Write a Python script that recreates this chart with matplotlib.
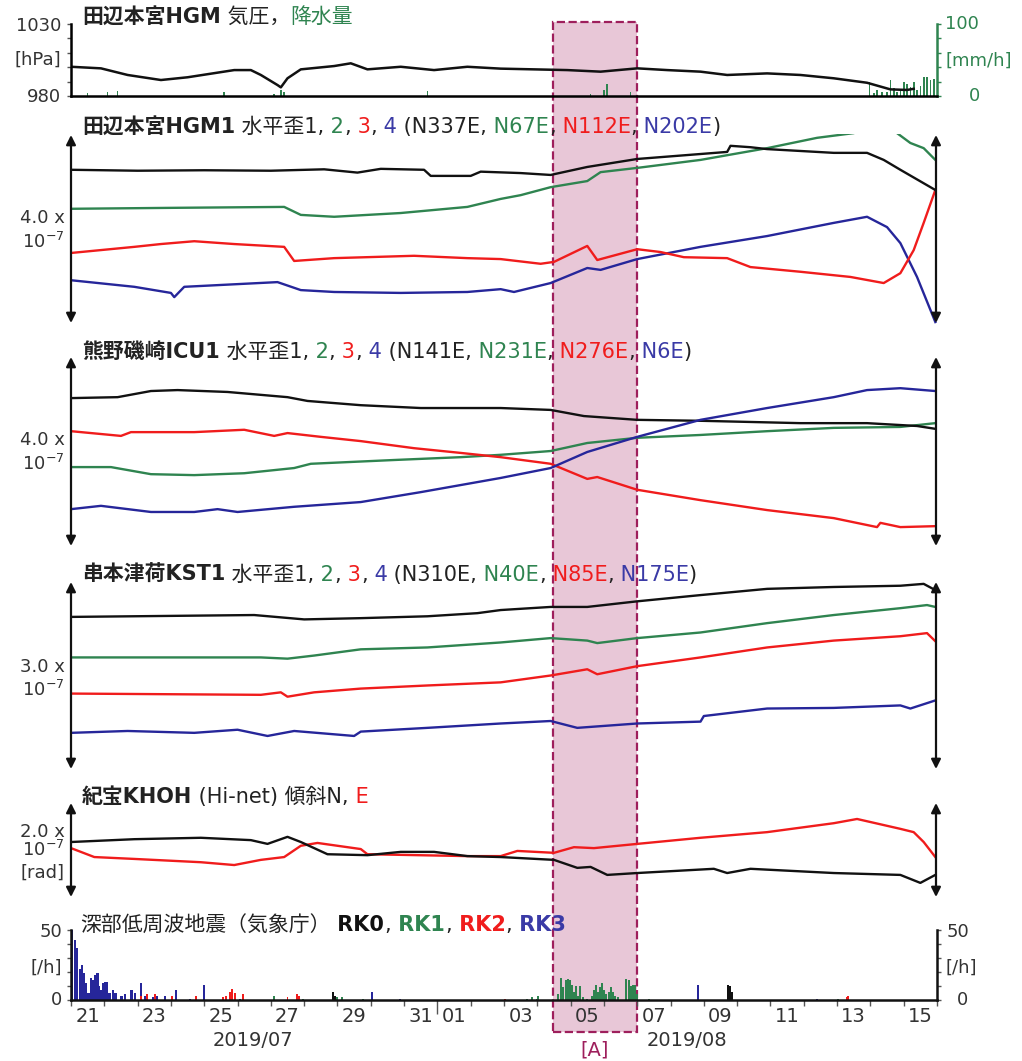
import matplotlib.pyplot as plt
from matplotlib.patches import Rectangle
from matplotlib.offsetbox import TextArea, HPacker, AnnotationBbox

plt.rcParams['font.family'] = ['DejaVu Sans', 'Noto Sans CJK JP']
plt.rcParams['mathtext.default'] = 'regular'
plt.rcParams['axes.unicode_minus'] = False

# time axis: days since 2019-07-21 00:00
day_pos = [0.5, 2.5, 4.5, 6.5, 8.5, 10.5, 11.5, 13.5, 15.5, 17.5, 19.5, 21.5, 23.5, 25.5]
day_labels = ['21', '23', '25', '27', '29', '31', '01', '03', '05', '07', '09', '11', '13', '15']
span_A = [14.47, 17.0]

# 田辺本宮HGM pressure [hPa] and rain [mm/h]
press_t = [0, 0.9, 1.7, 2.7, 3.5, 4.9, 5.4, 5.7, 6.2, 6.3, 6.5, 6.9, 7.9, 8.4, 8.9, 9.9,
           10.9, 11.9, 12.9, 14.9, 15.9, 17, 17.9, 18.9, 19.7, 20.9, 21.9, 22.9, 23.9,
           24.6, 25.1, 25.3]
press_hpa = [1000.3, 999.2, 994.6, 991.1, 993.0, 998.0, 998.0, 994.6, 987.6, 986.0, 992.3,
             998.5, 1000.8, 1002.7, 998.5, 1000.3, 998.0, 1000.3, 999.0, 998.0, 996.9,
             999.2, 998.0, 996.9, 994.6, 995.7, 994.6, 992.3, 989.2, 984.6, 984.2, 985.0]
rain_t = [0.5, 1.1, 1.4, 4.6, 6.1, 6.3, 6.4, 10.7, 15.6, 16.0, 16.1, 16.8, 23.97, 24.1,
          24.2, 24.35, 24.5, 24.6, 24.7, 24.8, 24.9, 25.0, 25.1, 25.2, 25.3, 25.4, 25.5,
          25.6, 25.7, 25.8, 25.9]
rain_mm = [4, 5, 7, 5, 3, 9, 5, 7, 3, 8, 17, 6, 20, 4, 8, 5, 6, 22, 11, 6, 9, 20, 17, 13,
           20, 8, 14, 26, 27, 22, 24]

# 田辺本宮HGM1 strain [1e-7], components 1-4
hgm1_t = [0, 2, 4, 6, 7.6, 8.6, 9.3, 10.6, 10.8, 12.0, 12.3, 13.5, 14.4, 15.5, 17, 19.7,
          19.8, 20.4, 20.9, 22.9, 23.9, 24.4, 24.9, 25.95]
hgm1_v = [3.26, 3.24, 3.25, 3.24, 3.27, 3.20, 3.28, 3.26, 3.13, 3.13, 3.22, 3.19, 3.15,
          3.32, 3.49, 3.64, 3.77, 3.74, 3.70, 3.62, 3.62, 3.47, 3.26, 2.83]
hgm2_t = [0, 3, 6.4, 6.9, 7.9, 9.9, 11.9, 12.9, 13.5, 14.4, 15.5, 15.9, 17, 18.9, 20.9,
          22.4, 23.5, 24.2, 24.8, 25.2, 25.6, 25.95]
hgm2_v = [2.43, 2.45, 2.47, 2.30, 2.26, 2.34, 2.47, 2.64, 2.72, 2.89, 3.02, 3.21, 3.30,
          3.47, 3.72, 3.94, 4.04, 4.25, 4.04, 3.83, 3.72, 3.47]
hgm3_t = [0, 1.9, 2.7, 3.7, 4.9, 6.4, 6.7, 7.9, 10.3, 11.9, 12.9, 14.1, 14.5, 15.5, 15.8,
          17, 17.7, 18.4, 19.7, 20.4, 21.9, 23.4, 24.4, 24.9, 25.3, 25.6, 25.95]
hgm3_v = [1.49, 1.62, 1.68, 1.74, 1.68, 1.62, 1.32, 1.38, 1.43, 1.38, 1.36, 1.26, 1.30,
          1.64, 1.34, 1.57, 1.51, 1.40, 1.38, 1.19, 1.09, 0.98, 0.85, 1.06, 1.55, 2.13, 2.83]
hgm4_t = [0, 1.9, 3.0, 3.1, 3.4, 6.2, 6.9, 7.9, 9.9, 11.9, 12.9, 13.3, 14.4, 15.5, 15.9,
          17, 18.9, 20.9, 22.9, 23.9, 24.5, 24.9, 25.4, 25.95]
hgm4_v = [0.91, 0.77, 0.64, 0.55, 0.77, 0.87, 0.70, 0.66, 0.64, 0.66, 0.72, 0.66, 0.85,
          1.17, 1.13, 1.36, 1.62, 1.85, 2.13, 2.26, 2.04, 1.70, 0.98, 0.02]

# 熊野磯崎ICU1 strain [1e-7]
icu1_t = [0, 1.4, 2.4, 3.2, 4.7, 6.5, 7.1, 8.7, 10.5, 12.9, 14.4, 15.4, 17, 18.9, 21.9,
          23.9, 25.4, 25.95]
icu1_v = [3.13, 3.15, 3.28, 3.30, 3.26, 3.15, 3.07, 2.98, 2.92, 2.92, 2.88, 2.75, 2.67,
          2.65, 2.60, 2.60, 2.54, 2.48]
icu2_t = [0, 1.2, 2.4, 3.7, 5.2, 6.7, 7.2, 9.7, 11.7, 12.9, 14.4, 15.5, 17, 18.9, 20.9,
          22.9, 24.9, 25.95]
icu2_v = [1.67, 1.67, 1.52, 1.50, 1.54, 1.65, 1.74, 1.82, 1.88, 1.93, 2.01, 2.18, 2.29,
          2.35, 2.43, 2.50, 2.52, 2.60]
icu3_t = [0, 1.5, 1.8, 3.7, 5.2, 6.1, 6.5, 7.5, 8.7, 10.3, 11.7, 12.9, 14.4, 15.5, 15.8,
          17, 18.9, 20.9, 22.9, 24.2, 24.3, 24.9, 25.95]
icu3_v = [2.43, 2.33, 2.41, 2.41, 2.46, 2.33, 2.39, 2.31, 2.22, 2.07, 1.97, 1.88, 1.74,
          1.42, 1.46, 1.19, 0.97, 0.76, 0.59, 0.40, 0.49, 0.40, 0.42]
icu4_t = [0, 0.9, 2.4, 3.7, 4.4, 5.0, 6.7, 8.7, 10.5, 12.9, 14.4, 15.5, 17, 18.9, 20.9,
          22.9, 23.9, 24.9, 25.95]
icu4_v = [0.78, 0.85, 0.72, 0.72, 0.78, 0.72, 0.83, 0.93, 1.14, 1.44, 1.65, 1.99, 2.31,
          2.67, 2.92, 3.15, 3.30, 3.34, 3.28]

# 串本津荷KST1 strain [1e-7]
kst1_t = [0, 5.5, 7.0, 8.7, 10.7, 12.2, 12.9, 14.4, 15.5, 17, 18.9, 20.9, 22.9, 24.9,
          25.6, 25.95]
kst1_v = [2.44, 2.47, 2.40, 2.42, 2.45, 2.50, 2.55, 2.60, 2.60, 2.69, 2.79, 2.89, 2.92,
          2.94, 2.97, 2.87]
kst2_t = [0, 5.7, 6.5, 7.3, 8.7, 10.7, 12.9, 14.4, 15.5, 15.8, 17, 18.9, 20.9, 22.9,
          24.9, 25.7, 25.95]
kst2_v = [1.79, 1.79, 1.77, 1.82, 1.92, 1.95, 2.03, 2.10, 2.06, 2.02, 2.10, 2.19, 2.34,
          2.47, 2.58, 2.63, 2.60]
kst3_t = [0, 5.7, 6.3, 6.5, 7.3, 8.7, 10.7, 12.9, 14.4, 15.5, 15.8, 17, 18.9, 20.9,
          22.9, 24.9, 25.7, 25.95]
kst3_v = [1.21, 1.19, 1.23, 1.16, 1.23, 1.29, 1.34, 1.39, 1.50, 1.60, 1.52, 1.65, 1.79,
          1.95, 2.06, 2.13, 2.18, 2.05]
kst4_t = [0, 1.7, 3.7, 5.0, 5.9, 6.7, 8.5, 8.7, 10.7, 12.9, 14.4, 15.2, 17, 18.9, 19.0,
          20.9, 22.9, 24.9, 25.2, 25.95]
kst4_v = [0.58, 0.61, 0.58, 0.63, 0.53, 0.61, 0.53, 0.60, 0.66, 0.73, 0.77, 0.66, 0.73,
          0.76, 0.85, 0.97, 0.98, 1.02, 0.97, 1.10]

# 紀宝KHOH tilt [1e-7 rad]
khn_t = [0, 1.9, 3.9, 5.4, 5.9, 6.5, 6.9, 7.7, 8.9, 9.9, 10.9, 11.9, 12.9, 14.5, 15.2,
         15.6, 16.1, 17, 19.3, 19.7, 20.4, 22.9, 24.9, 25.5, 25.95]
khn_v = [1.17, 1.23, 1.26, 1.21, 1.13, 1.28, 1.17, 0.91, 0.89, 0.96, 0.96, 0.87, 0.85,
         0.79, 0.62, 0.64, 0.47, 0.51, 0.60, 0.51, 0.60, 0.51, 0.47, 0.30, 0.47]
khe_t = [0, 0.7, 1.9, 3.9, 4.9, 5.7, 6.4, 6.9, 7.4, 8.7, 8.9, 11.9, 12.9, 13.4, 14.5,
         15.1, 15.7, 17, 18.9, 20.9, 22.9, 23.6, 24.9, 25.3, 25.6, 25.95]
khe_v = [1.04, 0.85, 0.81, 0.74, 0.68, 0.79, 0.85, 1.09, 1.15, 1.02, 0.91, 0.87, 0.87,
         0.98, 0.94, 1.06, 1.04, 1.13, 1.26, 1.38, 1.57, 1.66, 1.45, 1.38, 1.17, 0.85]

# deep low-frequency earthquakes [/h]
rk0_t = [7.88, 7.93, 19.74, 19.79, 19.84]
rk0_n = [6, 3, 11, 10, 6]
rk1_t = [6.1, 6.98, 7.98, 8.13, 8.78, 13.68, 13.83, 13.98, 14.03, 14.63, 14.71, 14.78,
         14.85, 14.91, 14.98, 15.04, 15.1, 15.16, 15.21, 15.29, 15.38, 15.5, 15.63, 15.7,
         15.75, 15.82, 15.89, 15.94, 16.01, 16.07, 16.14, 16.21, 16.27, 16.34, 16.41,
         16.67, 16.74, 16.81, 16.87, 16.94, 16.99, 17.34, 23.04]
rk1_n = [3, 1, 2, 2, 1, 1, 2, 1, 3, 4, 16, 9, 14, 15, 14, 11, 6, 10, 3, 10, 2, 1, 3, 7,
         11, 6, 9, 12, 7, 4, 6, 9, 6, 3, 2, 15, 14, 10, 11, 11, 4, 1, 1]
rk2_t = [2.09, 2.27, 2.52, 3.02, 3.75, 4.55, 4.65, 4.77, 4.84, 4.92, 5.17, 6.5, 6.78,
         6.86, 13.03, 23.29, 23.34]
rk2_n = [3, 4, 4, 3, 3, 2, 3, 6, 8, 5, 4, 2, 4, 3, 1, 2, 3]
rk3_t = [0.03, 0.12, 0.19, 0.27, 0.34, 0.4, 0.46, 0.53, 0.6, 0.66, 0.73, 0.8, 0.85, 0.9,
         0.96, 1.02, 1.09, 1.16, 1.27, 1.34, 1.52, 1.62, 1.82, 1.92, 2.11, 2.22, 2.47,
         2.57, 2.82, 3.15, 3.57, 4.0, 5.07, 9.03, 9.88, 15.0, 18.82, 22.39]
rk3_n = [50, 43, 37, 22, 25, 19, 12, 5, 16, 14, 18, 19, 10, 7, 12, 13, 13, 5, 7, 5, 3,
         4, 7, 5, 12, 3, 2, 3, 3, 7, 1, 11, 1, 6, 1, 1, 11, 1]

W, H = 1022, 1061
X0, X1 = 71, 937
DAYS = 26
T_RIGHT = (936 - X0) / ((X1 - X0) / DAYS)

K = '#111111'
TK = '#222222'
G = '#2f8450'
R = '#f01c1c'
B = '#26269a'
TB = '#3a3aa6'
MAG = '#9e1f5c'

fig = plt.figure(figsize=(W / 100, H / 100), dpi=100)


def px_axes(y_top, y_bot):
    ax = fig.add_axes([X0 / W, 1 - y_bot / H, (X1 - X0) / W, (y_bot - y_top) / H])
    ax.set_xlim(0, DAYS)
    ax.patch.set_visible(False)
    return ax


def strain_axes(y_top, y_bot, a_top, a_bot, scale):
    ax = px_axes(y_top, y_bot)
    u = scale / (a_bot - a_top)
    ax.set_ylim((a_bot - y_bot) * u, (a_bot - y_top) * u)
    ax.axis('off')
    for t in (0, T_RIGHT):
        ax.annotate('', xy=(t, scale), xytext=(t, 0), annotation_clip=False,
                    arrowprops=dict(arrowstyle='<|-|>', color=K, lw=1.6,
                                    mutation_scale=14, shrinkA=0, shrinkB=0))
    return ax


def ftext(x, y, s, **kw):
    kw.setdefault('va', 'center')
    kw.setdefault('fontsize', 13)
    kw.setdefault('color', '#333333')
    fig.text(x / W, 1 - y / H, s, **kw)


def title(x, y, parts, size=15):
    boxes = [TextArea(s, textprops=dict(color=c, fontweight=w, fontsize=size))
             for s, c, w in parts]
    pack = HPacker(children=boxes, align='baseline', pad=0, sep=0)
    ab = AnnotationBbox(pack, (x / W, 1 - y / H), xycoords='figure fraction',
                        box_alignment=(0, 0.5), frameon=False, pad=0)
    fig.add_artist(ab)


# shaded period [A]
fig.add_artist(Rectangle((553 / W, 1 - 1032 / H), (637 - 553) / W, (1032 - 22) / H,
                         transform=fig.transFigure, facecolor='#e8c7d7',
                         edgecolor=MAG, ls='--', lw=1.6, zorder=-1))

# panel 1: pressure and rain
ax1 = px_axes(24, 96)
ax1.set_ylim(980, 1030)
axr = ax1.twinx()
axr.set_ylim(0, 100)
axr.bar(rain_t, rain_mm, width=0.05, color=G)
ax1.plot(press_t, press_hpa, color=K, lw=1.8)
ax1.set_zorder(axr.get_zorder() + 1)
for sp in ['top', 'right']:
    ax1.spines[sp].set_visible(False)
for sp in ['top', 'left', 'bottom']:
    axr.spines[sp].set_visible(False)
ax1.spines['left'].set_linewidth(1.8)
ax1.spines['bottom'].set_linewidth(1.8)
axr.spines['right'].set_linewidth(1.8)
axr.spines['right'].set_color(G)
ax1.set_yticks(range(980, 1031, 10))
ax1.set_xticks(range(27))
ax1.tick_params(length=3, width=1, labelleft=False, labelbottom=False, color='#555')
axr.set_yticks(range(0, 101, 20))
axr.tick_params(length=3, width=1, labelright=False, color=G)
axr.set_xticks([])

ftext(61, 26, '1030', ha='right')
ftext(61, 60, '[hPa]', ha='right')
ftext(61, 97, '980', ha='right')
ftext(945, 24, '100', ha='left', color=G)
ftext(945, 61, '[mm/h]', ha='left', color=G)
ftext(980, 96, '0', ha='right', color=G)
title(82, 17, [('田辺本宮HGM', TK, 'bold'), (' 気圧，', TK, 'normal'), ('降水量', G, 'normal')])

# panel 2: HGM1
ax2 = strain_axes(134, 330, 135, 323, 4.0)
ax2.plot(hgm2_t, hgm2_v, color=G, lw=1.7)
ax2.plot(hgm4_t, hgm4_v, color=B, lw=1.7)
ax2.plot(hgm3_t, hgm3_v, color=R, lw=1.7)
ax2.plot(hgm1_t, hgm1_v, color=K, lw=1.7)
ftext(65, 218, '4.0 x', ha='right')
ftext(65, 242, '10$^{-7}$', ha='right')
title(82, 127, [('田辺本宮HGM1', TK, 'bold'), (' 水平歪1,', TK, 'normal'), (' 2', G, 'normal'),
                (',', TK, 'normal'), (' 3', R, 'normal'), (',', TK, 'normal'),
                (' 4', TB, 'normal'), (' (N337E,', TK, 'normal'), (' N67E', G, 'normal'),
                (',', TK, 'normal'), (' N112E', R, 'normal'), (',', TK, 'normal'),
                (' N202E', TB, 'normal'), (')', TK, 'normal')])

# panel 3: ICU1
ax3 = strain_axes(355, 550, 357, 546, 4.0)
ax3.plot(icu2_t, icu2_v, color=G, lw=1.7)
ax3.plot(icu1_t, icu1_v, color=K, lw=1.7)
ax3.plot(icu3_t, icu3_v, color=R, lw=1.7)
ax3.plot(icu4_t, icu4_v, color=B, lw=1.7)
ftext(65, 440, '4.0 x', ha='right')
ftext(65, 464, '10$^{-7}$', ha='right')
title(82, 352, [('熊野磯崎ICU1', TK, 'bold'), (' 水平歪1,', TK, 'normal'), (' 2', G, 'normal'),
                (',', TK, 'normal'), (' 3', R, 'normal'), (',', TK, 'normal'),
                (' 4', TB, 'normal'), (' (N141E,', TK, 'normal'), (' N231E', G, 'normal'),
                (',', TK, 'normal'), (' N276E', R, 'normal'), (',', TK, 'normal'),
                (' N6E', TB, 'normal'), (')', TK, 'normal')])

# panel 4: KST1
ax4 = strain_axes(580, 772, 582, 769, 3.0)
ax4.plot(kst1_t, kst1_v, color=K, lw=1.7)
ax4.plot(kst2_t, kst2_v, color=G, lw=1.7)
ax4.plot(kst3_t, kst3_v, color=R, lw=1.7)
ax4.plot(kst4_t, kst4_v, color=B, lw=1.7)
ftext(65, 667, '3.0 x', ha='right')
ftext(65, 690, '10$^{-7}$', ha='right')
title(82, 575, [('串本津荷KST1', TK, 'bold'), (' 水平歪1,', TK, 'normal'), (' 2', G, 'normal'),
                (',', TK, 'normal'), (' 3', R, 'normal'), (',', TK, 'normal'),
                (' 4', TB, 'normal'), (' (N310E,', TK, 'normal'), (' N40E', G, 'normal'),
                (',', TK, 'normal'), (' N85E', R, 'normal'), (',', TK, 'normal'),
                (' N175E', TB, 'normal'), (')', TK, 'normal')])

# panel 5: KHOH tilt
ax5 = strain_axes(800, 900, 803, 897, 2.0)
ax5.plot(khe_t, khe_v, color=R, lw=1.7)
ax5.plot(khn_t, khn_v, color=K, lw=1.7)
ftext(65, 832, '2.0 x', ha='right')
ftext(65, 850, '10$^{-7}$', ha='right')
ftext(64, 873, '[rad]', ha='right')
title(82, 797, [('紀宝KHOH', TK, 'bold'), (' (Hi-net) 傾斜N,', TK, 'normal'), (' E', R, 'normal')])

# panel 6: low-frequency earthquakes
ax6 = px_axes(930, 1000)
ax6.set_ylim(0, 50)
ax6.bar(rk3_t, rk3_n, width=0.07, color=B)
ax6.bar(rk2_t, rk2_n, width=0.06, color=R)
ax6.bar(rk1_t, rk1_n, width=0.06, color=G)
ax6.bar(rk0_t, rk0_n, width=0.06, color=K)
ax6.spines['top'].set_visible(False)
for sp in ['left', 'right', 'bottom']:
    ax6.spines[sp].set_linewidth(1.8)
    ax6.spines[sp].set_color(K)
ax6.set_yticks(range(0, 51, 10))
ax6.tick_params(axis='y', length=3, width=1, left=True, right=True,
                labelleft=False, labelright=False, color='#555')
ax6.set_xticks(range(27))
ax6.set_xticks(day_pos, day_labels, minor=True)
ax6.tick_params(axis='x', which='major', length=4, width=1, labelbottom=False, color='#555')
ax6.tick_params(axis='x', which='minor', length=0, pad=5, labelsize=14, labelcolor='#333333')
ax6.xaxis.get_major_ticks()[11].tick1line.set_markersize(10)

ftext(62, 932, '50', ha='right')
ftext(62, 968, '[/h]', ha='right')
ftext(62, 1000, '0', ha='right')
ftext(947, 932, '50', ha='left')
ftext(945, 968, '[/h]', ha='left')
ftext(957, 1000, '0', ha='left')
ftext(253, 1040, '2019/07', ha='center', fontsize=14)
ftext(687, 1040, '2019/08', ha='center', fontsize=14)
ftext(595, 1050, '[A]', ha='center', fontsize=14, color=MAG)
title(80, 925, [('深部低周波地震（気象庁）', TK, 'normal'), (' RK0', K, 'bold'), (',', TK, 'normal'),
                (' RK1', G, 'bold'), (',', TK, 'normal'), (' RK2', R, 'bold'),
                (',', TK, 'normal'), (' RK3', TB, 'bold')])

fig.savefig('out.png', dpi=100)
